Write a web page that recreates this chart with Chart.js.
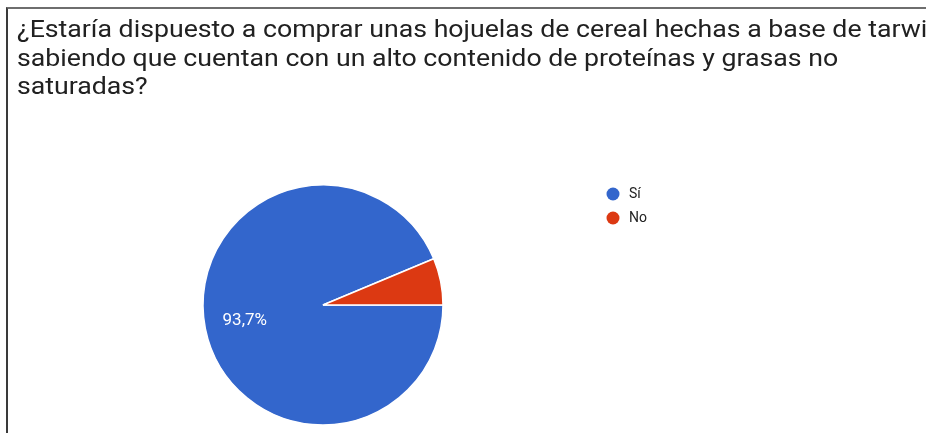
<!DOCTYPE html>
<html>
<head>
<meta charset="utf-8">
<script src="https://cdn.jsdelivr.net/npm/chart.js@4"></script>
<style>
  html, body { margin: 0; padding: 0; background: #fff; }
  body { width: 926px; height: 433px; position: relative; overflow: hidden; }
  #frame {
    position: absolute; left: 6px; top: 7px; width: 1000px; height: 1000px;
    border-top: 2px solid #6e6e6e; border-left: 2px solid #3a3a3a;
  }
  #title {
    position: absolute; left: 17px; top: 15px;
    font-family: Roboto, sans-serif; font-size: 24px; line-height: 28.5px;
    color: #212121; white-space: pre;
    transform: scaleX(1.112); transform-origin: 0 0;
  }
  #chart { position: absolute; left: 0; top: 0; }
</style>
</head>
<body>
<div id="frame"></div>
<canvas id="chart" width="926" height="433"></canvas>
<div id="title">¿Estaría dispuesto a comprar unas hojuelas de cereal hechas a base de tarwi
sabiendo que cuentan con un alto contenido de proteínas y grasas no
saturadas?</div>
<script>
// respuestas (porcentaje)
const labels = ['Sí', 'No'];
const values = [93.7, 6.3];
const colors = ['#3366cc', '#dc3912'];

// draw percentage labels inside slices (only the big one has room)
const sliceLabels = {
    id: 'sliceLabels',
    afterDatasetsDraw(chart) {
        const ctx = chart.ctx;
        const meta = chart.getDatasetMeta(0);
        ctx.save();
        ctx.font = '17px Roboto, sans-serif';
        ctx.fillStyle = '#ffffff';
        ctx.textAlign = 'center';
        ctx.textBaseline = 'middle';
        meta.data.forEach((arc, i) => {
            if (values[i] < 10) return;
            const mid = (arc.startAngle + arc.endAngle) / 2;
            const r = arc.outerRadius * 0.665;
            const txt = values[i].toFixed(1).replace('.', ',') + '%';
            ctx.fillText(txt, arc.x + Math.cos(mid) * r, arc.y + Math.sin(mid) * r);
        });
        ctx.restore();
    }
};

// google-style legend on the right
const dotLegend = {
    id: 'dotLegend',
    afterDraw(chart) {
        const ctx = chart.ctx;
        ctx.save();
        ctx.font = '14px Roboto, sans-serif';
        ctx.textBaseline = 'middle';
        labels.forEach((label, i) => {
            const y = 194 + i * 24;
            ctx.fillStyle = colors[i];
            ctx.beginPath();
            ctx.arc(613, y, 6.5, 0, Math.PI * 2);
            ctx.fill();
            ctx.fillStyle = '#222222';
            ctx.fillText(label, 629, y);
        });
        ctx.restore();
    }
};

new Chart(document.getElementById('chart'), {
    type: 'pie',
    data: {
        labels: labels,
        datasets: [{
            data: values,
            backgroundColor: colors,
            borderColor: '#ffffff',
            borderWidth: 1.5
        }]
    },
    options: {
        responsive: false,
        animation: false,
        rotation: 90,
        radius: 120,
        layout: { padding: { left: 203, right: 483, top: 185, bottom: 8 } },
        plugins: {
            legend: { display: false },
            tooltip: { enabled: false }
        }
    },
    plugins: [sliceLabels, dotLegend]
});
</script>
</body>
</html>
